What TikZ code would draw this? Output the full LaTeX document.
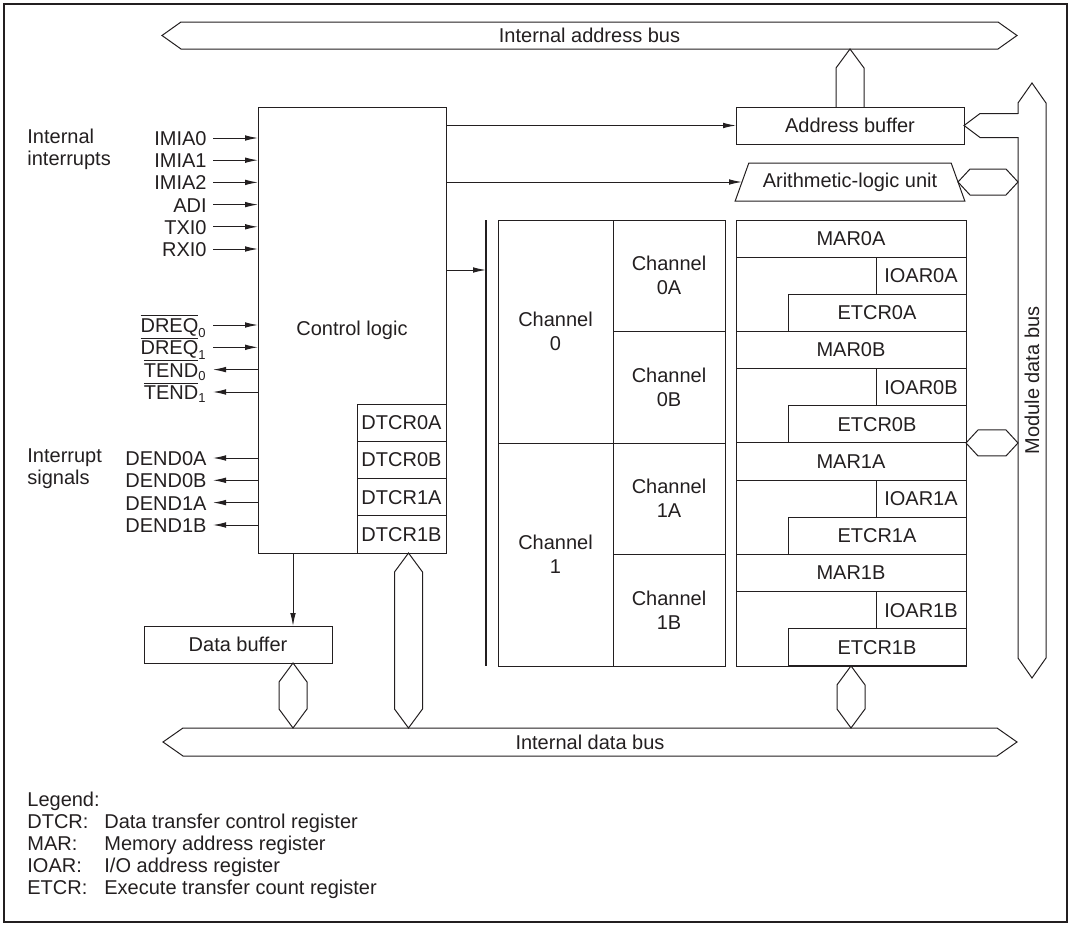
\documentclass[tikz,border=0pt]{standalone}
\usepackage{fontspec}
\setmainfont{Liberation Sans}
\usetikzlibrary{arrows.meta,positioning,calc,shapes.geometric}
\definecolor{ink}{RGB}{35,31,32}
\tikzset{
  box/.style={draw=ink,line width=0.5pt,inner sep=0pt,outer sep=0pt,align=center},
  reg/.style={box,minimum height=18.58pt},
  chan/.style={box,font=\fontsize{10}{12}\selectfont},
  bus/.style={inner sep=0pt,outer sep=0pt,minimum height=14pt},
  link/.style={draw=ink,line width=0.5pt,line join=miter},
  arr/.style={-{Latex[length=6.5pt,width=2.8pt]},line width=0.5pt,ink},
  sig/.style={anchor=east,inner xsep=3pt,inner ysep=0pt,text height=7.5pt,text depth=0pt},
  grp/.style={anchor=west,inner sep=0pt,align=left,font=\fontsize{10}{11}\selectfont},
}
\newcommand{\ovl}[2]{$\overline{\mbox{#1}}_{\mbox{\fontsize{6.5}{7}\selectfont#2}}$}
% outline of a bus node, with a head at both ends
\newcommand{\busframe}[2]{\draw[link] (#1.north west) -- (#1.north east) -- ($(#1.east)!-#2!(#1.center)$)
  -- (#1.south east) -- (#1.south west) -- ($(#1.west)!-#2!(#1.center)$) -- cycle;}
% bus link with a head at both ends (top tip, bottom tip)
\newcommand{\vlink}[2]{\draw[link] (#1) -- ($(#1)+(-14,19)$) -- ($(#2)+(-14,-19)$) -- (#2)
  -- ($(#2)+(14,-19)$) -- ($(#1)+(14,19)$) -- cycle;}
% same, lying (left tip, right tip)
\newcommand{\hlink}[2]{\draw[link] (#1) -- ($(#1)+(12,-13)$) -- ($(#2)+(-12,-13)$) -- (#2)
  -- ($(#2)+(-12,13)$) -- ($(#1)+(12,13)$) -- cycle;}

\begin{document}
\begin{tikzpicture}[x=0.5pt,y=-0.5pt,font=\fontsize{10}{12}\selectfont,text=ink]
  \useasboundingbox (0,0) rectangle (1073,926);
  \draw[ink,line width=1pt] (4,4) rectangle (1067,922);

  % buses
  \node[bus,minimum width=408.5pt,minimum height=13.5pt] (abus) at (589.5,35.5) {Internal address bus};
  \node[bus,minimum width=407pt] (dbus) at (590,742) {Internal data bus};
  \node[bus,rotate=90,minimum width=277.5pt] (mdbus) at (1032,380.5) {Module data bus};
  \busframe{abus}{9.5pt}
  \busframe{dbus}{10pt}
  \busframe{mdbus}{10pt}

  % control logic and its registers
  \node[box,minimum width=94pt,minimum height=223pt] (ctrl) at (352,330) {Control logic};
  \node[reg,minimum width=44.5pt,anchor=south east] (dtcr1b) at (ctrl.south east) {DTCR1B};
  \node[reg,minimum width=44.5pt,above=0pt of dtcr1b] (dtcr1a) {DTCR1A};
  \node[reg,minimum width=44.5pt,above=0pt of dtcr1a] (dtcr0b) {DTCR0B};
  \node[reg,minimum width=44.5pt,above=0pt of dtcr0b] (dtcr0a) {DTCR0A};

  \node[box,minimum width=114pt,minimum height=18.5pt] (abuf) at (850,125.5) {Address buffer};
  \node[trapezium,trapezium left angle=62,trapezium right angle=62,trapezium stretches=true,
    draw=ink,line width=0.5pt,inner sep=1pt,outer sep=0pt,minimum width=115pt,minimum height=19pt]
    (alu) at (850,182) {Arithmetic-logic unit};
  \node[box,minimum width=94pt,minimum height=18.5pt] (dbuf) at (238,644.5) {Data buffer};

  % channels
  \node[chan,minimum width=57.5pt,minimum height=111.5pt,anchor=north west] (ch0) at (498,220) {Channel\\0};
  \node[chan,minimum width=57.5pt,minimum height=111.5pt,below=0pt of ch0] (ch1) {Channel\\1};
  \node[chan,minimum width=56pt,minimum height=55.75pt,anchor=north west] (ch0a) at (ch0.north east) {Channel\\0A};
  \node[chan,minimum width=56pt,minimum height=55.75pt,below=0pt of ch0a] (ch0b) {Channel\\0B};
  \node[chan,minimum width=56pt,minimum height=55.75pt,below=0pt of ch0b] (ch1a) {Channel\\1A};
  \node[chan,minimum width=56pt,minimum height=55.75pt,below=0pt of ch1a] (ch1b) {Channel\\1B};

  % MAR / IOAR / ETCR
  \node[box,minimum width=115pt,minimum height=223pt,anchor=north west] (regs) at (736,220) {};
  \node[reg,minimum width=115pt,anchor=north west] (mar0a) at (regs.north west) {MAR0A};
  \node[reg,minimum width=45pt,below left=0pt and 0pt of mar0a.south east] (ioar0a) {IOAR0A};
  \node[reg,minimum width=89pt,below left=0pt and 0pt of ioar0a.south east] (etcr0a) {ETCR0A};
  \node[reg,minimum width=115pt,below left=0pt and 0pt of etcr0a.south east] (mar0b) {MAR0B};
  \node[reg,minimum width=45pt,below left=0pt and 0pt of mar0b.south east] (ioar0b) {IOAR0B};
  \node[reg,minimum width=89pt,below left=0pt and 0pt of ioar0b.south east] (etcr0b) {ETCR0B};
  \node[reg,minimum width=115pt,below left=0pt and 0pt of etcr0b.south east] (mar1a) {MAR1A};
  \node[reg,minimum width=45pt,below left=0pt and 0pt of mar1a.south east] (ioar1a) {IOAR1A};
  \node[reg,minimum width=89pt,below left=0pt and 0pt of ioar1a.south east] (etcr1a) {ETCR1A};
  \node[reg,minimum width=115pt,below left=0pt and 0pt of etcr1a.south east] (mar1b) {MAR1B};
  \node[reg,minimum width=45pt,below left=0pt and 0pt of mar1b.south east] (ioar1b) {IOAR1B};
  \node[reg,minimum width=89pt,below left=0pt and 0pt of ioar1b.south east] (etcr1b) {ETCR1B};

  % links to the buses
  \draw[link] ($(abuf.north)+(-14,0)$) -- ++(0,-39) -- (abuf.north |- abus.south)
    -- ($(abuf.north)+(14,-39)$) -- ++(0,39);
  \coordinate (mt) at (abuf.east -| mdbus.north);
  \fill[white] ($(abuf.east)+(16,-11.5)$) rectangle ($(mt)+(1.5,11.5)$);
  \draw[link] ($(mt)+(0,-12)$) -- ($(abuf.east)+(16,-12)$) -- (abuf.east)
    -- ($(abuf.east)+(16,12)$) -- ($(mt)+(0,12)$);
  \coordinate (alr) at (alu.east -| mdbus.north);
  \hlink{alu.east}{alr}
  \coordinate (etr) at (etcr0b.south east -| mdbus.north);
  \hlink{etcr0b.south east}{etr}
  \coordinate (btop) at ([xshift=-29.5pt]ctrl.south);
  \coordinate (dlt) at (btop |- dbuf.south);
  \coordinate (dlb) at (btop |- dbus.north);
  \vlink{dlt}{dlb}
  \coordinate (dtop) at ([xshift=3.5pt]dtcr1b.south);
  \coordinate (dbot) at (dtop |- dbus.north);
  \vlink{dtop}{dbot}
  \coordinate (rlt) at (mar1b.south |- etcr1b.south);
  \coordinate (rlb) at (rlt |- dbus.north);
  \vlink{rlt}{rlb}

  % control arrows
  \draw[arr] (ctrl.east |- abuf.west) -- (abuf.west);
  \draw[arr] (ctrl.east |- alu.west) -- (alu.west);
  \coordinate (bartop) at (486,220);
  \coordinate (barbot) at (486,666);
  \draw[ink,line width=0.7pt] (bartop) -- (barbot);
  \coordinate (barin) at (486,270);
  \draw[arr] (ctrl.east |- barin) -- (barin);
  \draw[arr] (btop) -- (btop |- dbuf.north);

  % signals
  \node[grp] (intirq) at (27,149) {Internal\\interrupts};
  \node[sig] (imia0) at (213,138) {IMIA0};
  \node[sig] (imia1) at (213,160.2) {IMIA1};
  \node[sig] (imia2) at (213,182.4) {IMIA2};
  \node[sig] (adi) at (213,204.6) {ADI};
  \node[sig] (txi0) at (213,226.8) {TXI0};
  \node[sig] (rxi0) at (213,249) {RXI0};
  \draw[arr] (imia0.east) -- (imia0.east -| ctrl.west);
  \draw[arr] (imia1.east) -- (imia1.east -| ctrl.west);
  \draw[arr] (imia2.east) -- (imia2.east -| ctrl.west);
  \draw[arr] (adi.east) -- (adi.east -| ctrl.west);
  \draw[arr] (txi0.east) -- (txi0.east -| ctrl.west);
  \draw[arr] (rxi0.east) -- (rxi0.east -| ctrl.west);

  \node[sig] (dreq0) at (213,325) {\ovl{DREQ}{0}};
  \node[sig] (dreq1) at (213,347.3) {\ovl{DREQ}{1}};
  \node[sig] (tend0) at (213,369.6) {\ovl{TEND}{0}};
  \node[sig] (tend1) at (213,392) {\ovl{TEND}{1}};
  \draw[arr] (dreq0.east) -- (dreq0.east -| ctrl.west);
  \draw[arr] (dreq1.east) -- (dreq1.east -| ctrl.west);
  \draw[arr] (tend0.east -| ctrl.west) -- (tend0.east);
  \draw[arr] (tend1.east -| ctrl.west) -- (tend1.east);

  \node[grp] (irqsig) at (27,469) {Interrupt\\signals};
  \node[sig] (dend0a) at (213,458) {DEND0A};
  \node[sig] (dend0b) at (213,480.3) {DEND0B};
  \node[sig] (dend1a) at (213,502.6) {DEND1A};
  \node[sig] (dend1b) at (213,525) {DEND1B};
  \draw[arr] (dend0a.east -| ctrl.west) -- (dend0a.east);
  \draw[arr] (dend0b.east -| ctrl.west) -- (dend0b.east);
  \draw[arr] (dend1a.east -| ctrl.west) -- (dend1a.east);
  \draw[arr] (dend1b.east -| ctrl.west) -- (dend1b.east);

  % legend
  \node[anchor=west,inner sep=0pt,font=\fontsize{10}{11}\selectfont] (legend) at (27,846.5)
    {\begin{tabular}{@{}p{38.5pt}@{}l@{}}
      \multicolumn{2}{@{}l}{Legend:}\\
      DTCR: & Data transfer control register\\
      MAR: & Memory address register\\
      IOAR: & I/O address register\\
      ETCR: & Execute transfer count register
    \end{tabular}};
\end{tikzpicture}
\end{document}
